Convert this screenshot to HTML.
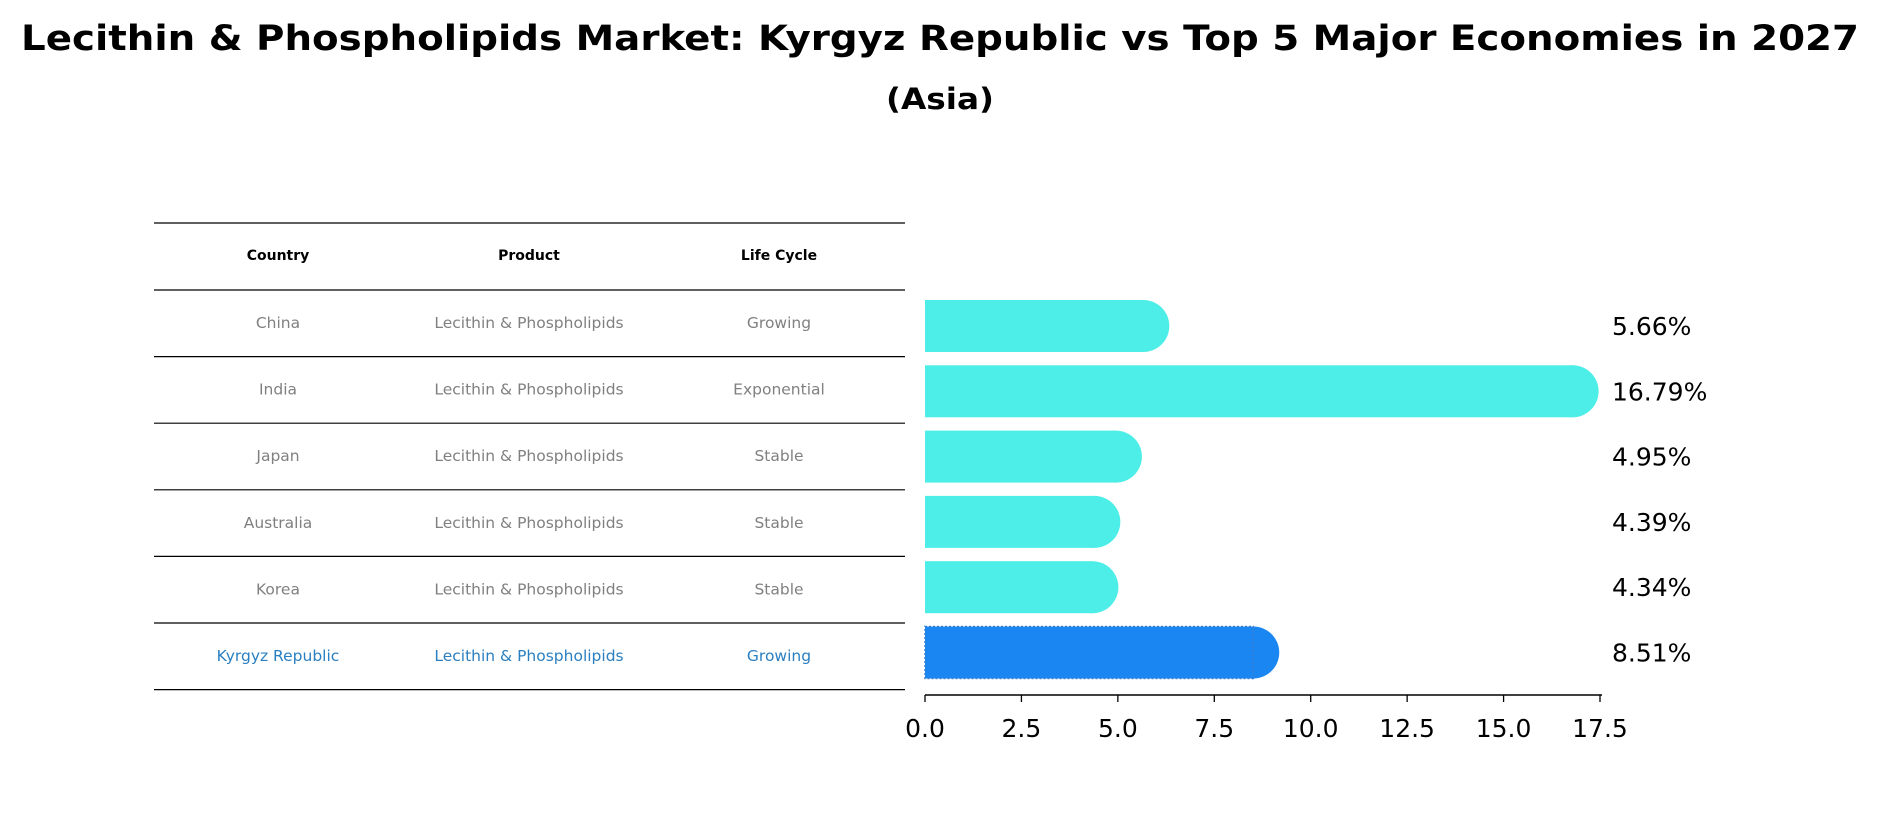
<!DOCTYPE html>
<html><head><meta charset="utf-8"><style>
body{margin:0;background:#fff;}
svg{display:block;font-family:"DejaVu Sans","Liberation Sans",sans-serif;}
</style></head><body>
<svg id="chart" width="1881" height="823" viewBox="0 0 1881 823" xmlns="http://www.w3.org/2000/svg">
<text x="940" y="50" text-anchor="middle" font-size="35" font-weight="bold" textLength="1838" lengthAdjust="spacingAndGlyphs">Lecithin &amp; Phospholipids Market: Kyrgyz Republic vs Top 5 Major Economies in 2027</text>
<text x="940" y="109" text-anchor="middle" font-size="29" font-weight="bold" textLength="108" lengthAdjust="spacingAndGlyphs">(Asia)</text>
<g id="table"></g>
<g id="bars"></g>
</svg>
<script>
const countries=["China","India","Japan","Australia","Korea","Kyrgyz Republic"];
const products=["Lecithin & Phospholipids","Lecithin & Phospholipids","Lecithin & Phospholipids","Lecithin & Phospholipids","Lecithin & Phospholipids","Lecithin & Phospholipids"];
const lifeCycles=["Growing","Exponential","Stable","Stable","Stable","Growing"];
const values=[5.66,16.79,4.95,4.39,4.34,8.51];
const tickLabels=["0.0","2.5","5.0","7.5","10.0","12.5","15.0","17.5"];
const tickValues=[0,2.5,5,7.5,10,12.5,15,17.5];

const NS="http://www.w3.org/2000/svg";
function mk(tag,attrs,parent,text){const e=document.createElementNS(NS,tag);for(const k in attrs)e.setAttribute(k,attrs[k]);if(text!==undefined)e.textContent=text;parent.appendChild(e);return e;}
const x0=925,unit=(1600-925)/17.5;
const xs=v=>x0+v*unit;
const rowY=i=>326+i*65.3;
const barH=52;

// table
const tbl=document.getElementById('table');
const colX=[278,529,779];
const lineYs=[223,290];
for(let i=0;i<countries.length;i++)lineYs.push(290+(i+1)*66.6);
lineYs.forEach((y,i)=>{const l=mk('line',{x1:154,x2:905,y1:y,y2:y,stroke:'#000','stroke-width':1.2},tbl);

});
["Country","Product","Life Cycle"].forEach((h,j)=>{const t=mk('text',{x:colX[j],y:260,'text-anchor':'middle','font-size':14,'font-weight':'bold'},tbl,h);

});
countries.forEach((c,i)=>{const y=290+i*66.6+33+5;const col=i===countries.length-1?'#2a7fc1':'#808080';
[c,products[i],lifeCycles[i]].forEach((v,j)=>{const t=mk('text',{x:colX[j],y:y,'text-anchor':'middle','font-size':15.5,fill:col},tbl,v);

});});

// bars
const g=document.getElementById('bars');
values.forEach((v,i)=>{const last=i===values.length-1;const col=last?'#1a86f2':'#4deee8';const cy=rowY(i);
const bg=mk('g',{},g);


mk('rect',{x:x0,y:cy-barH/2,width:Math.max(0,xs(v)-x0),height:barH,fill:col},bg);
mk('circle',{cx:xs(v),cy:cy,r:barH/2,fill:col},bg);
if(last)mk('rect',{x:x0,y:cy-barH/2,width:xs(v)-x0,height:barH,fill:'none',stroke:'#3a7fd0','stroke-width':1.5,'stroke-dasharray':'2 2'},bg);
const t=mk('text',{x:1612,y:cy+9,'font-size':25},g,v.toFixed(2)+'%');

});
const ax=mk('line',{x1:x0,x2:1602,y1:695,y2:695,stroke:'#000','stroke-width':1.5},g);


tickValues.forEach((tv,i)=>{mk('line',{x1:xs(tv),x2:xs(tv),y1:695,y2:702,stroke:'#000','stroke-width':1.3},g);
const t=mk('text',{x:xs(tv),y:737,'text-anchor':'middle','font-size':25},g,tickLabels[i]);

});
</script>
</body></html>
